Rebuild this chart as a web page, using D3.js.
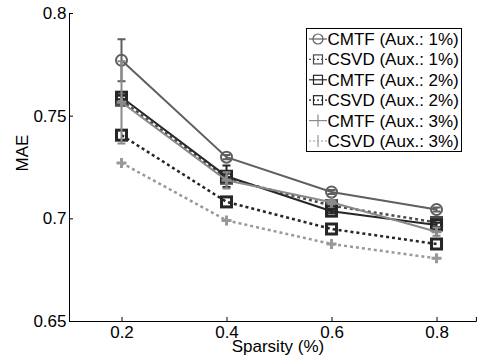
<!DOCTYPE html>
<html>
<head>
<meta charset="utf-8">
<script src="https://cdn.jsdelivr.net/npm/d3@7"></script>
<style>
  body { margin: 0; background: #fff; }
  svg { display: block; font-family: "Liberation Sans", Arial, sans-serif; }
</style>
</head>
<body>
<div id="chart"></div>
<script>
'use strict';

// data
const sparsity = [0.2, 0.4, 0.6, 0.8];
const seriesNames = ['CMTF (Aux.: 1%)', 'CSVD (Aux.: 1%)', 'CMTF (Aux.: 2%)',
  'CSVD (Aux.: 2%)', 'CMTF (Aux.: 3%)', 'CSVD (Aux.: 3%)'];
const cmtf1 = [0.777, 0.7298, 0.7128, 0.7043];
const csvd1 = [0.7575, 0.7195, 0.7062, 0.6980];
const cmtf2 = [0.7590, 0.7205, 0.7035, 0.6968];
const csvd2 = [0.7405, 0.7080, 0.6948, 0.6875];
const cmtf3 = [0.7565, 0.7185, 0.7078, 0.6935];
const csvd3 = [0.7270, 0.6990, 0.6875, 0.6805];
const cmtf1Err = [0.0102, 0.0010, 0.0010, 0.0010];
const cmtf2Err = [0.0010, 0.0052, 0.0010, 0.0010];
const cmtf3Err = [0.0200, 0.0040, 0.0010, 0.0020];
const yTicks = [0.65, 0.7, 0.75, 0.8];
const xTicks = [0.2, 0.4, 0.6, 0.8];

const width = 477;
const height = 356;
const fontSize = '17px';

const series = [
  { name: seriesNames[0], values: cmtf1, err: cmtf1Err, color: '#5f5f5f', dash: null, marker: 'circle' },
  { name: seriesNames[1], values: csvd1, err: null, color: '#4a4a4a', dash: '3,3', marker: 'square' },
  { name: seriesNames[2], values: cmtf2, err: cmtf2Err, color: '#262626', dash: null, marker: 'square' },
  { name: seriesNames[3], values: csvd2, err: null, color: '#262626', dash: '3,3', marker: 'square' },
  { name: seriesNames[4], values: cmtf3, err: cmtf3Err, color: '#8a8a8a', dash: null, marker: 'plus' },
  { name: seriesNames[5], values: csvd3, err: null, color: '#999999', dash: '3,3', marker: 'plus' }
];

const svg = d3.select('#chart')
  .append('svg')
    .attr('width', width)
    .attr('height', height);

const x = d3.scaleLinear().domain([0.1, 0.875]).range([69, 475.9]);
const y = d3.scaleLinear().domain([0.65, 0.8]).range([321, 13]);

// axes (MATLAB style, ticks pointing in, no box)
svg.append('g')
  .attr('transform', `translate(0,${y(0.65)})`)
  .call(d3.axisBottom(x).tickValues(xTicks).tickSize(-4).tickPadding(5).tickFormat(d3.format('.1f')))
  .call(g => g.select('.domain').attr('stroke', '#000'))
  .selectAll('text')
    .style('font-size', fontSize)
    .attr('fill', '#000');

svg.append('g')
  .attr('transform', `translate(${x(0.1)},0)`)
  .call(d3.axisLeft(y).tickValues(yTicks).tickSize(-4).tickPadding(2.5).tickFormat(d => String(+d.toFixed(2))))
  .call(g => g.select('.domain').attr('stroke', '#000'))
  .selectAll('text')
    .style('font-size', fontSize)
    .attr('fill', '#000');

svg.append('text')
  .attr('transform', 'translate(28,153) rotate(-90)')
  .attr('text-anchor', 'middle')
  .style('font-size', fontSize)
  .text('MAE');

svg.append('text')
  .attr('x', 278)
  .attr('y', 352)
  .attr('text-anchor', 'middle')
  .style('font-size', fontSize)
  .text('Sparsity (%)');

/** draws one marker at (cx, cy) */
function drawMarker (g, kind, cx, cy, color, size) {
  if (kind === 'circle') {
    g.append('circle')
      .attr('cx', cx).attr('cy', cy).attr('r', size / 2)
      .attr('fill', 'none').attr('stroke', color).attr('stroke-width', 2);
  } else if (kind === 'square') {
    g.append('rect')
      .attr('x', cx - size / 2).attr('y', cy - size / 2)
      .attr('width', size).attr('height', size)
      .attr('fill', 'none').attr('stroke', color).attr('stroke-width', 3);
  } else {
    g.append('path')
      .attr('d', `M${cx - size / 2},${cy}H${cx + size / 2}M${cx},${cy - size / 2}V${cy + size / 2}`)
      .attr('stroke', color).attr('stroke-width', 3);
  }
}

const line = d3.line()
  .x((d, i) => x(sparsity[i]))
  .y(d => y(d));

series.forEach(s => {
  const g = svg.append('g');
  if (s.err) {
    s.values.forEach((v, i) => {
      const cx = x(sparsity[i]);
      const top = y(v + s.err[i]);
      const bot = y(v - s.err[i]);
      g.append('path')
        .attr('d', `M${cx},${top}V${bot}M${cx - 4},${top}H${cx + 4}M${cx - 4},${bot}H${cx + 4}`)
        .attr('stroke', s.color).attr('stroke-width', 2).attr('fill', 'none');
    });
  }
  g.append('path')
    .datum(s.values)
    .attr('d', line)
    .attr('fill', 'none')
    .attr('stroke', s.color)
    .attr('stroke-width', s.dash ? 2.5 : 2)
    .attr('stroke-dasharray', s.dash);
  s.values.forEach((v, i) => {
    drawMarker(g, s.marker, x(sparsity[i]), y(v), s.color, s.marker === 'circle' ? 11 : 10);
  });
});

// legend
const legend = svg.append('g');
legend.append('rect')
  .attr('x', 306.5).attr('y', 28.5)
  .attr('width', 155).attr('height', 123)
  .attr('fill', '#fff').attr('stroke', '#000').attr('stroke-width', 1);

series.forEach((s, i) => {
  const cy = 39 + i * 20.4;
  legend.append('line')
    .attr('x1', 309).attr('x2', 327)
    .attr('y1', cy).attr('y2', cy)
    .attr('stroke', s.color)
    .attr('stroke-width', 1.2)
    .attr('stroke-dasharray', s.dash ? '2,2' : null);
  const m = legend.append('g');
  if (s.marker === 'circle') {
    m.append('circle').attr('cx', 318).attr('cy', cy).attr('r', 5)
      .attr('fill', 'none').attr('stroke', s.color).attr('stroke-width', 1.2);
  } else if (s.marker === 'square') {
    m.append('rect').attr('x', 313.5).attr('y', cy - 4.5).attr('width', 9).attr('height', 9)
      .attr('fill', 'none').attr('stroke', s.color).attr('stroke-width', 1.2);
  } else {
    m.append('line').attr('x1', 318).attr('x2', 318).attr('y1', cy - 6).attr('y2', cy + 6)
      .attr('stroke', s.color).attr('stroke-width', 1.2);
  }
  legend.append('text')
    .attr('x', 327.5).attr('y', cy + 6)
    .style('font-size', fontSize)
    .text(s.name);
});
</script>
</body>
</html>
